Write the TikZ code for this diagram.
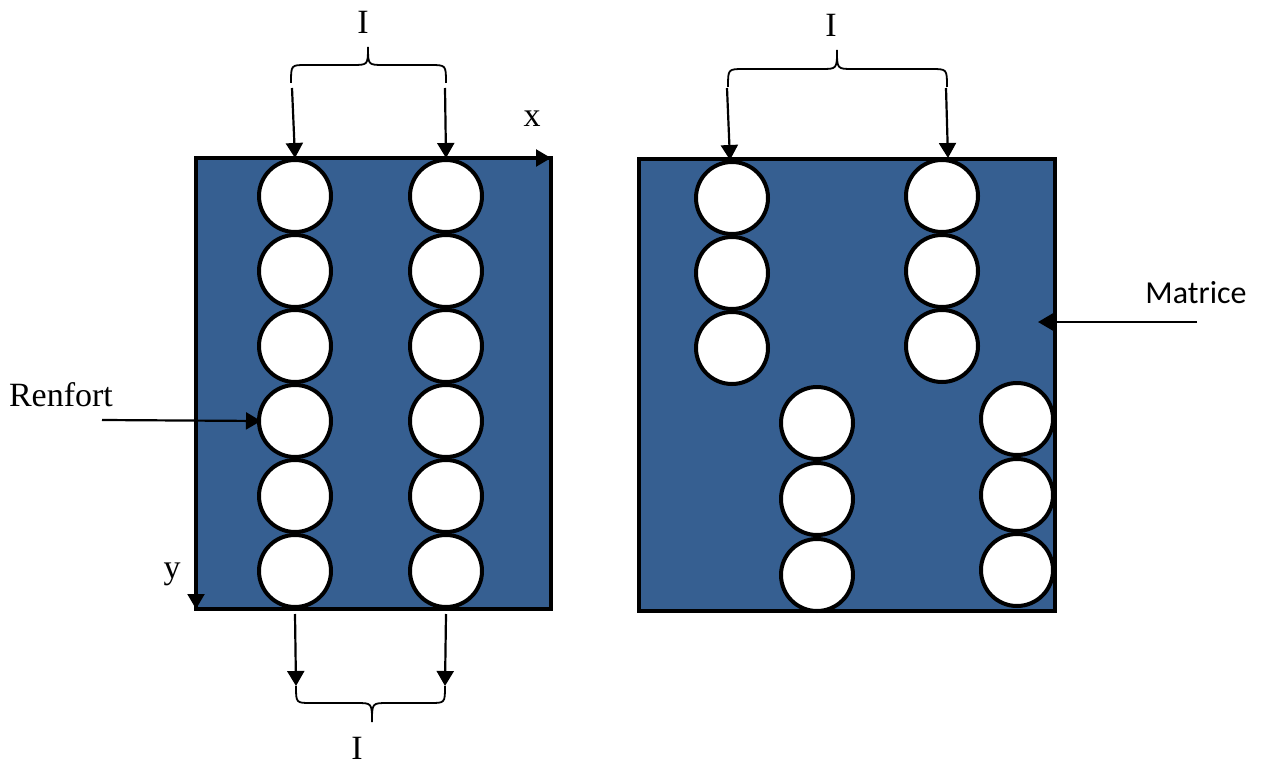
\documentclass[tikz,border=0pt]{standalone}
\usepackage{fontspec}
\setmainfont{Liberation Serif}
\newfontfamily\labelsans{Carlito}
\usetikzlibrary{arrows.meta}
\definecolor{matrixblue}{RGB}{54,95,145}
\tikzset{
  fibre/.style={circle, draw=black, fill=white, line width=4pt, minimum size=72pt, inner sep=0pt},
  plate/.style={rectangle, draw=black, fill=matrixblue, line width=3.5pt, inner sep=0pt, outer sep=0pt},
  arr/.style={line width=2.2pt, -{Triangle[length=15pt,width=17pt]}},
  brace/.style={line width=1.8pt},
  lbl/.style={font=\fontsize{34}{38}\selectfont, inner sep=0pt},
}
\begin{document}
\begin{tikzpicture}[x=1pt,y=-1pt]
\useasboundingbox (0,0) rectangle (1261,765);

% matrix plates
\node[plate, minimum width=355pt, minimum height=451pt] (L) at (373.5,383.5) {};
\node[plate, minimum width=416pt, minimum height=452pt] (R) at (847,385) {};

% aligned fibres
\foreach \i/\yy in {1/196,2/271,3/346,4/421,5/496,6/571}{
  \node[fibre] (la\i) at (295,\yy) {};
  \node[fibre] (lb\i) at (446,\yy) {};
}

% staggered fibres
\foreach \i/\yy in {1/198,2/273,3/348}{
  \node[fibre] (ra\i) at (732,\yy) {};
}
\foreach \i/\yy in {1/196,2/271,3/346}{
  \node[fibre] (rb\i) at (942,\yy) {};
}
\foreach \i/\yy in {1/423,2/499,3/575}{
  \node[fibre] (rc\i) at (817,\yy) {};
}
\foreach \i/\yy in {1/419,2/495,3/570}{
  \node[fibre] (rd\i) at (1017,\yy) {};
}

% axes
\draw[arr] ([xshift=-30pt]L.north east) -- (L.north east);
\draw[arr] ([yshift=30pt]L.south west) -- (L.south west);
\node[lbl] (xl) at (532,119) {x};
\node[lbl] (yl) at (172,574) {y};

% spacing brace, left plate, top
\coordinate (ta1) at (292,88);
\coordinate (ta2) at (445,88);
\draw[brace] (291,83) .. controls (291,65) .. (306,65) -- (352,65)
  .. controls (368,65) .. (368,47) .. controls (368,65) .. (384,65)
  -- (430,65) .. controls (446,65) .. (446,83);
\draw[arr] (ta1) -- (la1.north);
\draw[arr] (ta2) -- (lb1.north);
\node[lbl] (i1) at (363,22) {I};

% spacing brace, left plate, bottom
\coordinate (ba1) at (296,686);
\coordinate (ba2) at (445,686);
\draw[arr] ([yshift=-5pt]la6.south) -- (ba1);
\draw[arr] ([yshift=-5pt]lb6.south) -- (ba2);
\draw[brace] (296,686) .. controls (296,703) .. (311,703) -- (356,703)
  .. controls (372,703) .. (372,722) .. controls (372,703) .. (388,703)
  -- (430,703) .. controls (445,703) .. (445,686);
\node[lbl] (i2) at (357,748) {I};

% spacing brace, right plate, top
\coordinate (tr1) at (727,88);
\coordinate (tr2) at (946,88);
\draw[brace] (728,87) .. controls (728,69) .. (744,69) -- (821,69)
  .. controls (837,69) .. (837,50) .. controls (837,69) .. (853,69)
  -- (931,69) .. controls (947,69) .. (947,87);
\draw[arr] (tr1) -- ([xshift=-2pt]ra1.north);
\draw[arr] (tr2) -- ([xshift=6pt]rb1.north);
\node[lbl] (i3) at (831,25) {I};

% reinforcement label
\coordinate (rs) at (102,420);
\draw[arr] (rs) -- ([xshift=4pt]la4.west);
\node[lbl] (ren) at (61,395) {Renfort};

% matrix label
\coordinate (ms) at (1197,322);
\coordinate (mtip) at (1038,322);
\draw[arr] (ms) -- (mtip);
\node[lbl, font=\labelsans\fontsize{32}{36}\selectfont] (mat) at (1196,293) {Matrice};
\end{tikzpicture}
\end{document}
